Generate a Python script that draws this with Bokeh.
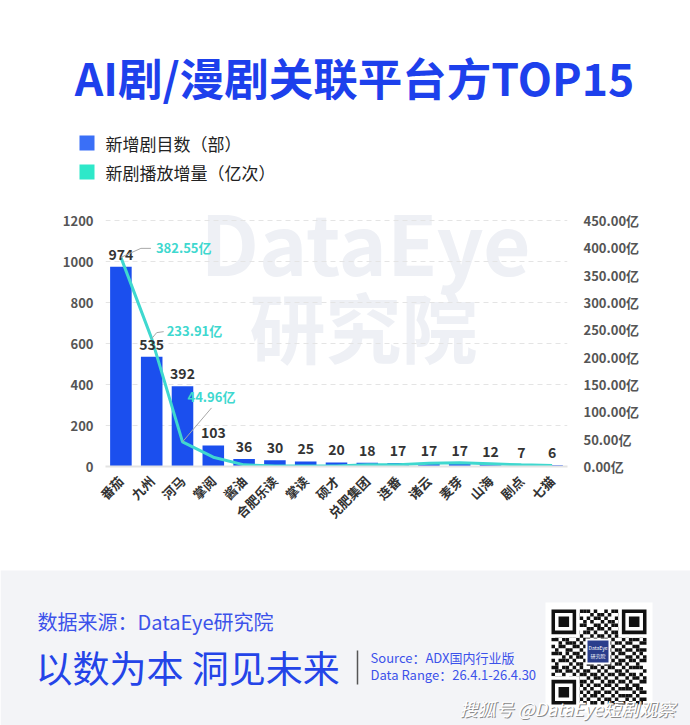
import math
from bokeh.plotting import figure
from bokeh.models import (Range1d, FactorRange, LinearAxis, FixedTicker,
                          PrintfTickFormatter, ColumnDataSource, Label)
from bokeh.layouts import column
from bokeh.embed import file_html
from bokeh.resources import INLINE
from bokeh.core.properties import value

# ---------------- data ----------------
platforms = ["番茄", "九州", "河马", "掌阅", "酱油", "合肥乐读", "掌读", "硕才",
             "兑肥集团", "连番", "诸云", "麦芽", "山海", "剧点", "七猫"]
new_titles = [974, 535, 392, 103, 36, 30, 25, 20, 18, 17, 17, 17, 12, 7, 6]
play_increase = [382.55, 233.91, 44.96, 17, 3, 1, 1, 1, 3, 3, 6, 7, 5, 3, 2]
labeled_play = ["382.55亿", "233.91亿", "44.96亿"]
left_ticks = [0, 200, 400, 600, 800, 1000, 1200]
right_ticks = [0, 50, 100, 150, 200, 250, 300, 350, 400, 450]

title_text = "AI剧/漫剧关联平台方TOP15"
legend_bar = "新增剧目数（部）"
legend_line = "新剧播放增量（亿次）"

FONT = "Noto Sans CJK SC"
BAR_C = "#1b4fee"
LINE_C = "#3fd8cf"

left_max, right_max = left_ticks[-1], right_ticks[-1]
W = 690
HEAD_B, CHART_B, FOOT_B = 195, 565, 725
FR_L, FR_R, FR_T, FR_B = 105, 567, 220, 466
cat_px = (FR_R - FR_L) / len(platforms)
ext = (FR_B - HEAD_B) / (FR_B - FR_T)


def plain(fig):
    fig.axis.visible = False
    fig.grid.visible = False
    fig.outline_line_color = None
    try:
        fig.frame_align = False
    except Exception:
        pass
    return fig


# ---------------- header ----------------
h = plain(figure(width=W, height=HEAD_B, x_range=Range1d(0, W), y_range=Range1d(HEAD_B, 0),
                 output_backend="svg", toolbar_location=None, min_border=0))
h.text(x=[354], y=[76], text=[title_text], text_font=value(FONT), text_font_size="44.5px",
       text_font_style="bold", text_color="#1d40ec", text_align="center", text_baseline="middle")
h.quad(left=[79], right=[94], top=[135], bottom=[150], fill_color="#3a6ff7", line_color=None)
h.quad(left=[79], right=[94], top=[164], bottom=[179], fill_color="#2ee8c9", line_color=None)
h.text(x=[105, 105], y=[143, 172], text=[legend_bar, legend_line], text_font=value(FONT),
       text_font_size="17px", text_color="#222222", text_align="left", text_baseline="middle")

# ---------------- chart ----------------
src = ColumnDataSource(dict(platform=platforms, titles=new_titles, play=play_increase,
                            tlabel=[str(v) for v in new_titles]))

p = figure(x_range=FactorRange(*platforms), y_range=Range1d(0, left_max * ext),
           width=W, height=CHART_B - HEAD_B, output_backend="svg", toolbar_location=None,
           min_border_left=FR_L, min_border_right=W - FR_R, min_border_top=0,
           min_border_bottom=CHART_B - FR_B)
p.outline_line_color = None
try:
    p.frame_align = False
except Exception:
    pass
p.extra_y_ranges = {"play": Range1d(0, right_max * ext)}

lt = FixedTicker(ticks=left_ticks)
la = p.left[0]
la.ticker = lt
la.axis_line_color = None
la.major_tick_line_color = None
la.minor_tick_line_color = None
la.major_label_text_font = FONT
la.major_label_text_font_size = "13px"
la.major_label_text_font_style = "bold"
la.major_label_text_color = "#555555"
la.major_label_standoff = 6

ra = LinearAxis(y_range_name="play", ticker=FixedTicker(ticks=right_ticks),
                formatter=PrintfTickFormatter(format="%.2f亿"))
ra.axis_line_color = None
ra.major_tick_line_color = None
ra.minor_tick_line_color = None
ra.major_label_text_font = FONT
ra.major_label_text_font_size = "13px"
ra.major_label_text_font_style = "bold"
ra.major_label_text_color = "#555555"
ra.major_label_standoff = 10
p.add_layout(ra, "right")

xa = p.below[0]
xa.major_label_orientation = math.pi / 4
xa.major_label_text_font = FONT
xa.major_label_text_font_size = "13px"
xa.major_label_text_font_style = "bold"
xa.major_label_text_color = "#333333"
xa.axis_line_color = "#e3e3e3"
xa.axis_line_width = 2
xa.major_tick_line_color = None
xa.minor_tick_line_color = None
xa.major_label_standoff = 6

p.xgrid.visible = False
p.ygrid[0].ticker = lt
p.ygrid.grid_line_color = "#e4e4e4"
p.ygrid.grid_line_dash = "5 4"

# watermark (decorative, in plot area)
lv_px = left_max / (FR_B - FR_T)
for txt, rx, ry, size in [("DataEye", 365, 240, 82), ("研究院", 363, 324, 76)]:
    p.add_layout(Label(x=(rx - FR_L) / cat_px, y=(FR_B - ry) * lv_px, text=txt, text_font=FONT,
                       text_font_size=f"{size}px", text_font_style="bold", text_color="#eef0f5",
                       text_align="center", text_baseline="middle", level="image"))

p.vbar(x="platform", top="titles", width=0.7, source=src, fill_color=BAR_C, line_color=None)
p.line(x="platform", y="play", y_range_name="play", source=src, line_color=LINE_C, line_width=3)
p.text(x="platform", y="titles", text="tlabel", source=src, text_font=value(FONT),
       text_font_size="14px", text_font_style="bold", text_color="#333333",
       text_align="center", text_baseline="bottom", y_offset=-7)

rv_px = right_max / (FR_B - FR_T)
leader = [[(0, 0), (20, 9), (30, 9)], [(0, 0), (5, 6), (12, 7)], [(0, 0), (29, 34)]]
lab_off = [(35, -10), (15, -8), (5, -45)]
xs, ys = [], []
for i, pts in enumerate(leader):
    xs.append([i + 0.5 + dx / cat_px for dx, dy in pts])
    ys.append([play_increase[i] + dy * rv_px for dx, dy in pts])
p.multi_line(xs=xs, ys=ys, y_range_name="play", line_color="#a8a8a8", line_width=1)
for i in range(3):
    p.text(x=[platforms[i]], y=[play_increase[i]], text=[labeled_play[i]], y_range_name="play",
           text_font=value(FONT), text_font_size="13px", text_font_style="bold",
           text_color=LINE_C, text_align="left", text_baseline="middle",
           x_offset=lab_off[i][0], y_offset=lab_off[i][1])

# ---------------- footer ----------------
f = plain(figure(width=W, height=FOOT_B - CHART_B, x_range=Range1d(0, W),
                 y_range=Range1d(FOOT_B, CHART_B), output_backend="svg",
                 toolbar_location=None, min_border=0))
f.quad(left=[0], right=[W], top=[570], bottom=[FOOT_B], fill_color="#f3f4f7", line_color=None)
f.text(x=[37], y=[621], text=["数据来源：DataEye研究院"], text_font=value(FONT),
       text_font_size="20px", text_color="#3c52ea", text_baseline="middle")
f.text(x=[35], y=[666], text=["以数为本 洞见未来"], text_font=value(FONT),
       text_font_size="37px", text_color="#2444e8", text_baseline="middle")
f.segment(x0=[357], y0=[650], x1=[357], y1=[684], line_color="#555555", line_width=1.5)
f.text(x=[370, 370], y=[657, 674], text=["Source：ADX国内行业版", "Data Range：26.4.1-26.4.30"],
       text_font=value(FONT), text_font_size="13px", text_color="#3c52ea", text_baseline="middle")

# QR code (decorative)
qr_rows = [
    "101101001110100101101001011", "010010110001011010010110100", "111001011010110100101101110",
    "001110100101001011010010011", "110101011100110101101101001", "011010100011011010010110110",
    "100111010110100101101001101", "011001101001011010110100010", "110110010110101101001011101",
    "001011101001010010110110011", "101100110110101101001001100", "010011001011010010110110111",
    "111010110100101101011001010", "000101011011010110100110101", "101110100100101001011011011",
    "010001011011010110110100100", "110110101001101011001011110", "011011010110010100110100001",
    "100100101101101011011011010", "011101010010110100100101101", "101010111101001011011010011",
    "010110001010110110100101100", "111001110101001001011110110", "001110101010110110100001011",
    "110011010101101001011110100", "011100101010010110100101011", "100111010101101011011010110",
]
f.quad(left=[545], right=[652], top=[602], bottom=[712], fill_color="white", line_color=None)
q0x, q0y, n = 551, 609, len(qr_rows)
m = 95 / n
ql, qr_, qt, qb = [], [], [], []
for r, row in enumerate(qr_rows):
    for c, ch in enumerate(row[:n]):
        if ch == "1":
            ql.append(q0x + c * m); qr_.append(q0x + (c + 1) * m)
            qt.append(q0y + r * m); qb.append(q0y + (r + 1) * m)
f.quad(left=ql, right=qr_, top=qt, bottom=qb, fill_color="#111111", line_color=None)
fs = 7 * m
for fx, fy in [(q0x, q0y), (q0x + 95 - fs, q0y), (q0x, q0y + 95 - fs)]:
    f.quad(left=[fx - m], right=[fx + fs + m], top=[fy - m], bottom=[fy + fs + m], fill_color="white", line_color=None)
    f.quad(left=[fx], right=[fx + fs], top=[fy], bottom=[fy + fs], fill_color="#111111", line_color=None)
    f.quad(left=[fx + m], right=[fx + fs - m], top=[fy + m], bottom=[fy + fs - m], fill_color="white", line_color=None)
    f.quad(left=[fx + 2 * m], right=[fx + fs - 2 * m], top=[fy + 2 * m], bottom=[fy + fs - 2 * m], fill_color="#111111", line_color=None)
f.quad(left=[585], right=[610], top=[638], bottom=[664], fill_color="white", line_color=None)
f.quad(left=[587], right=[608], top=[640], bottom=[662], fill_color="#2a3e8c", line_color=None)
f.text(x=[597.5, 597.5], y=[647, 655], text=["DataEye", "研究院"], text_font=value(FONT),
       text_font_size="5px", text_color="white", text_align="center", text_baseline="middle")

f.text(x=[459], y=[707], text=["搜狐号 @DataEye短剧观察"], text_font=value(FONT),
       text_font_size="18px", text_font_style="italic", text_color="#8a8a8a",
       text_baseline="middle", x_offset=1, y_offset=1)
f.text(x=[459], y=[707], text=["搜狐号 @DataEye短剧观察"], text_font=value(FONT),
       text_font_size="18px", text_font_style="italic", text_color="#ffffff",
       text_baseline="middle")

layout = column(h, p, f, spacing=0)
open("out.html", "w").write(file_html(layout, INLINE))
